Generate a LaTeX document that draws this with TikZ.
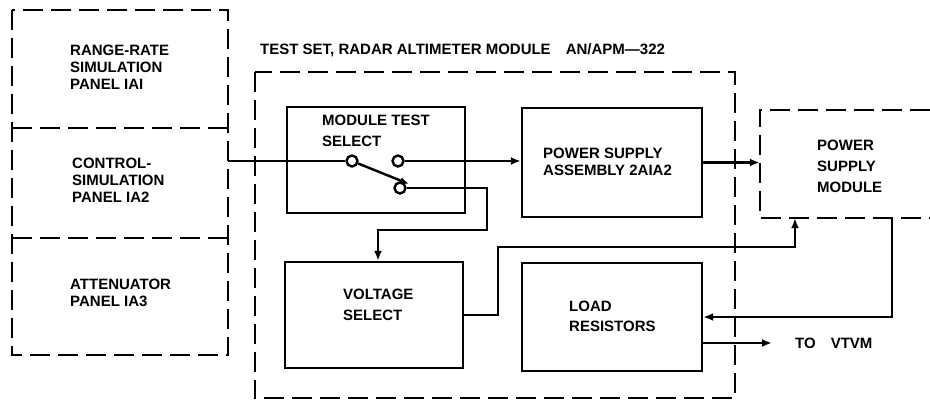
\documentclass[tikz,border=0pt]{standalone}
\usepackage{fontspec}
\setmainfont{Liberation Sans}
\usetikzlibrary{arrows.meta}
\begin{document}
\begin{tikzpicture}[x=1pt,y=-1pt,
  lbl/.style={font=\fontsize{15}{17}\selectfont\bfseries, align=left, inner sep=0pt, anchor=west},
  blk/.style={draw, line width=2.4pt, rectangle, inner sep=0pt},
  hid/.style={rectangle, inner sep=0pt},
  dsh/.style={line width=2.4pt, dash pattern=on 20pt off 8pt},
  wire/.style={line width=2.4pt},
  arr/.style={-{Latex[length=10pt,width=8pt]}},
  term/.style={circle, draw, line width=2.4pt, minimum size=11pt, inner sep=0pt}]
\useasboundingbox (0,0) rectangle (930,401);

% left panels
\node[hid, minimum width=216pt, minimum height=118pt] (p1) at (120,69) {};
\node[hid, minimum width=216pt, minimum height=110pt] (p2) at (120,183) {};
\node[hid, minimum width=216pt, minimum height=117pt] (p3) at (120,296.5) {};
\draw[dsh] (p1.north west) rectangle (p3.south east);
\draw[dsh] (p1.south west) -- (p1.south east);
\draw[dsh] (p3.north west) -- (p3.north east);
\node[lbl] (t1) at (70,67.5) {RANGE-RATE\\SIMULATION\\PANEL IAI};
\node[lbl] (t2) at (72,180) {CONTROL-\\SIMULATION\\PANEL IA2};
\node[lbl] (t3) at (70,293) {ATTENUATOR\\PANEL IA3};

% test set
\node[lbl] (title) at (260,50) {TEST SET, RADAR ALTIMETER MODULE\quad AN/APM---322};
\node[hid, minimum width=480pt, minimum height=326pt] (ts) at (495,235) {};
\draw[dsh] (ts.north west) rectangle (ts.south east);

\node[blk, minimum width=178pt, minimum height=106pt] (mts) at (376,160) {};
\node[lbl, font=\fontsize{15}{21}\selectfont\bfseries] (tm) at (322,131) {MODULE TEST\\SELECT};
\node[blk, minimum width=180pt, minimum height=109pt] (psa) at (612,162.5) {};
\node[lbl] (tp) at (543,162) {POWER SUPPLY\\ASSEMBLY 2AIA2};
\node[blk, minimum width=178pt, minimum height=106pt] (vs) at (374,315) {};
\node[lbl, font=\fontsize{15}{21}\selectfont\bfseries] (tv) at (343,305) {VOLTAGE\\SELECT};
\node[blk, minimum width=180pt, minimum height=108pt] (lr) at (612,317) {};
\node[lbl, font=\fontsize{15}{20}\selectfont\bfseries] (tl) at (569,316) {LOAD\\RESISTORS};

% power supply module (open on the right)
\node[hid, minimum width=170pt, minimum height=108pt] (psm) at (845,164) {};
\draw[dsh] (psm.north east) -- (psm.north west) -- (psm.south west) -- (psm.south east);
\node[lbl, font=\fontsize{15}{21}\selectfont\bfseries] (tpm) at (817,166) {POWER\\SUPPLY\\MODULE};

% switch
\node[term] (c1) at (352,161) {};
\node[term] (c2) at (398,161) {};
\node[term] (c3) at (400,188) {};
\coordinate (armend) at (409,184);
\draw[wire, -{Latex[length=9pt,width=7pt]}] (c1) -- (armend);

% connectors
\draw[wire] (p2.east |- c1) -- (c1);
\draw[wire, arr] (c2) -- (c2 -| psa.west);
\coordinate (k1) at (487,188);
\coordinate (k2) at (487,230);
\coordinate (k3) at (378,230);
\draw[wire, arr] (c3) -- (k1) -- (k2) -- (k3) -- (k3 |- vs.north);
\draw[wire, arr] (psa.east) -- (psa.east -| psm.west);
\coordinate (v1) at (498,315);
\coordinate (v2) at (498,247);
\coordinate (v3) at (795,247);
\draw[wire, arr] (vs.east) -- (v1) -- (v2) -- (v3) -- (v3 |- psm.south);
\coordinate (m1) at (892,218);
\coordinate (m2) at (892,317);
\draw[wire, arr] (m1) -- (m2) -- (m2 -| lr.east);
\coordinate (out) at (772,343);
\draw[wire, arr] (lr.east |- out) -- (out);
\node[lbl] (tvt) at (795,343) {TO\quad VTVM};
\end{tikzpicture}
\end{document}
